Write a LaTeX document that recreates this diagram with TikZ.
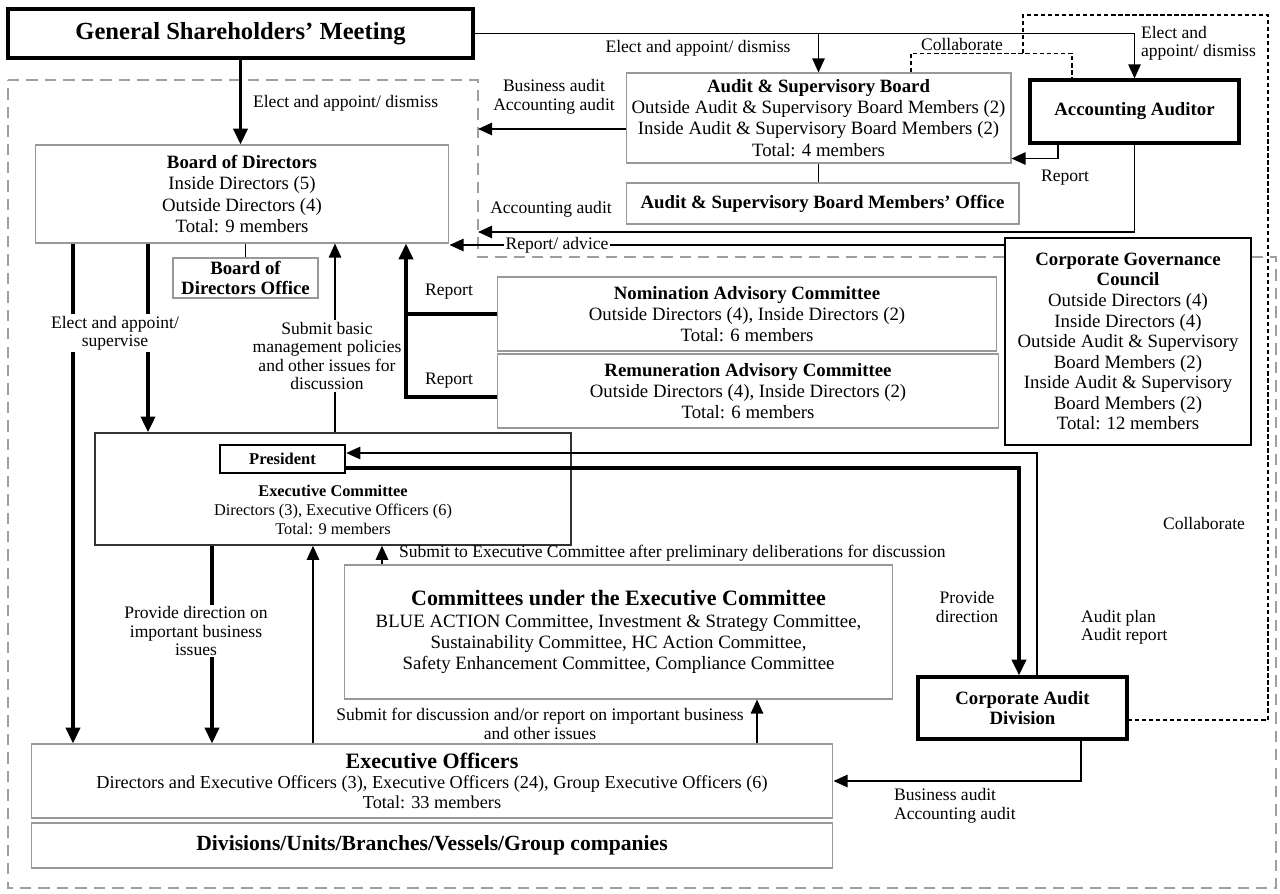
\documentclass[tikz,border=0pt]{standalone}
\usepackage{fontspec}
\setmainfont{Liberation Serif}
\usepackage{tikz}
\usetikzlibrary{arrows.meta}
\tikzset{
	box/.style={draw=gray!80, line width=0.6pt, fill=white, align=center, inner sep=0pt,
		font=\fontsize{10.7}{12}\selectfont},
	heavybox/.style={box, draw=black, line width=1.8pt},
	lbl/.style={align=center, inner sep=1pt, font=\fontsize{10}{10.5}\selectfont},
	gap/.style={lbl, fill=white},
	thk/.style={line width=2pt, -{Triangle[length=9pt,width=8pt]}},
	thn/.style={line width=1pt, -{Triangle[length=8pt,width=7pt]}},
	collab/.style={line width=0.8pt, dash pattern=on 2.5pt off 1.5pt},
	zone/.style={draw=gray!75, line width=1.2pt, dash pattern=on 6.5pt off 4pt}
}

\begin{document}
\begin{tikzpicture}[x=0.02cm, y=-0.02cm]
	\useasboundingbox (0,0) rectangle (1280,893);
	%company side
	\draw[zone] (8,80) -- (478,80) -- (478,257) -- (1276,257) -- (1276,888) -- (8,888) -- cycle;
	\coordinate (zonebiz) at (478,129);
	\coordinate (zoneacc) at (478,232);
	\coordinate (collabtop) at (1268,15);
	
	\node[heavybox, line width=2.5pt, minimum width=9.3cm, minimum height=0.98cm,
		font=\fontsize{14}{16}\selectfont\bfseries] (gsm) at (240.5,33.5) {General Shareholders' Meeting};
	\node[box, minimum width=7.7cm, minimum height=1.8cm] (asb) at (818.5,118)
		{\textbf{Audit \& Supervisory Board}\\Outside Audit \& Supervisory Board Members (2)\\Inside Audit \& Supervisory Board Members (2)\\Total: 4 members};
	\node[heavybox, minimum width=4.18cm, minimum height=1.26cm] (aa) at (1134.5,111.5) {\textbf{Accounting Auditor}};
	\node[box, minimum width=7.86cm, minimum height=0.82cm] (asbmo) at (822.5,203.5) {\textbf{Audit \& Supervisory Board Members' Office}};
	\node[box, minimum width=8.28cm, minimum height=1.96cm] (bod) at (242,194)
		{\textbf{Board of Directors}\\Inside Directors (5)\\Outside Directors (4)\\Total: 9 members};
	\node[box, minimum width=2.9cm, minimum height=0.8cm, font=\fontsize{10.7}{11.5}\selectfont\bfseries] (bodo) at (245.5,278) {Board of\\Directors Office};
	\node[box, minimum width=10cm, minimum height=1.48cm] (nac) at (747,314)
		{\textbf{Nomination Advisory Committee}\\Outside Directors (4), Inside Directors (2)\\Total: 6 members};
	\node[box, minimum width=10.04cm, minimum height=1.48cm] (rac) at (748,391)
		{\textbf{Remuneration Advisory Committee}\\Outside Directors (4), Inside Directors (2)\\Total: 6 members};
	\node[box, draw=black, line width=1.1pt, minimum width=4.92cm, minimum height=4.14cm, font=\fontsize{10.7}{11.7}\selectfont] (cgc) at (1128,341.5)
		{\textbf{Corporate Governance}\\\textbf{Council}\\Outside Directors (4)\\Inside Directors (4)\\Outside Audit \& Supervisory\\Board Members (2)\\Inside Audit \& Supervisory\\Board Members (2)\\Total: 12 members};
	\node[box, draw=black!80, line width=0.8pt, minimum width=9.52cm, minimum height=2.24cm] (exc) at (333,489) {};
	\node[box, draw=black, line width=1.4pt, minimum width=2.5cm, minimum height=0.56cm, font=\fontsize{9.4}{10}\selectfont\bfseries] (pres) at (282.5,459) {President};
	\node[lbl, font=\fontsize{9.3}{10.8}\selectfont] (exctxt) at (333,510)
		{\textbf{Executive Committee}\\Directors (3), Executive Officers (6)\\Total: 9 members};
	\node[box, minimum width=10.98cm, minimum height=2.68cm] (cue) at (618.5,632)
		{{\fontsize{12.5}{14}\selectfont\textbf{Committees under the Executive Committee}}\\BLUE ACTION Committee, Investment \& Strategy Committee,\\Sustainability Committee, HC Action Committee,\\Safety Enhancement Committee, Compliance Committee};
	\node[heavybox, minimum width=4.18cm, minimum height=1.24cm, font=\fontsize{10.7}{11.8}\selectfont\bfseries] (cad) at (1022.5,708) {Corporate Audit\\Division};
	\node[box, minimum width=16.04cm, minimum height=1.48cm, font=\fontsize{10.4}{11.5}\selectfont] (eo) at (432,781)
		{{\fontsize{12.5}{14}\selectfont\textbf{Executive Officers}}\\Directors and Executive Officers (3), Executive Officers (24), Group Executive Officers (6)\\Total: 33 members};
	\node[box, minimum width=16.04cm, minimum height=0.9cm, font=\fontsize{12.3}{14}\selectfont\bfseries] (div) at (432,845.5) {Divisions/Units/Branches/Vessels/Group companies};
	
	%connectors
	\draw[thk] (gsm.south) -- (gsm.south |- bod.north);
	\draw[thn] (gsm.east) -| (aa.north);
	\draw[thn] (gsm.east -| asb.north) -- (asb.north);
	\draw[collab] (asb.north -| 911,0) |- ([xshift=-1.25cm, yshift=0.5cm]aa.north) -- ([xshift=-1.25cm]aa.north);
	\draw[collab] ([xshift=-2.23cm, yshift=0.5cm]aa.north) |- (collabtop) |- ([yshift=-0.24cm]cad.east);
	\draw[thn] ([xshift=-1.53cm]aa.south) |- ([yshift=0.1cm]asb.south east);
	\draw[line width=1pt] (asb.south) -- (asb.south |- asbmo.north);
	\draw[thn] (aa.south) |- (zoneacc);
	\draw[thn] (asb.west |- zonebiz) -- (zonebiz);
	\draw[thn] (cgc.west |- 0,245) -- (bod.east |- 0,245);
	\draw[line width=1pt] (bodo.north) -- (bodo.north |- bod.south);
	\draw[thk] (bod.south -| 73,0) -- (eo.north -| 73,0);
	\draw[thk] (bod.south -| 148,0) -- (exc.north -| 148,0);
	\draw[thn] (exc.north -| 335,0) -- (bod.south -| 335,0);
	\draw[line width=2pt] (nac.west) -- (nac.west -| 406,0);
	\draw[thk] (rac.west |- 0,397) -| (bod.south -| 406,0);
	\draw[thn] (cad.north -| 1037,0) |- (pres.east |- 0,453);
	\draw[thk] (pres.east |- 0,468) -| (cad.north -| 1019,0);
	\draw[thn] (cue.north -| 382,0) -- (exc.south -| 382,0);
	\draw[thk] (exc.south -| 212,0) -- (eo.north -| 212,0);
	\draw[thn] (eo.north -| 313,0) -- (exc.south -| 313,0);
	\draw[thn] (eo.north -| 757,0) -- (cue.south -| 757,0);
	\draw[thn] (cad.south -| 1081,0) |- (eo.east);
	
	%labels
	\node[lbl, anchor=west] (lgsmbod) at (251,103) {Elect and appoint/ dismiss};
	\node[lbl] (lgsmasb) at (698,48) {Elect and appoint/ dismiss};
	\node[lbl, anchor=west, align=left] (lgsmaa) at (1139,43) {Elect and\\appoint/ dismiss};
	\node[lbl] (lcollab) at (962,44) {Collaborate};
	\node[lbl] (lasbaudit) at (554,97) {Business audit\\Accounting audit};
	\node[lbl] (laareport) at (1065,178) {Report};
	\node[lbl] (laaaudit) at (551,209) {Accounting audit};
	\node[gap] (ladvice) at (557,245) {Report/ advice};
	\node[gap] (lsupervise) at (115,333) {Elect and appoint/\\supervise};
	\node[gap] (lsubmit) at (327,356) {Submit basic\\management policies\\and other issues for\\discussion};
	\node[lbl] (lnac) at (449,292) {Report};
	\node[lbl] (lrac) at (449,381) {Report};
	\node[lbl, anchor=west] (lcue) at (397,553) {Submit to Executive Committee after preliminary deliberations for discussion};
	\node[gap] (lprovide) at (196,631) {Provide direction on\\important business\\issues};
	\node[lbl] (leocue) at (540,724) {Submit for discussion and/or report on important business\\and other issues};
	\node[lbl] (ldirection) at (967,607) {Provide\\direction};
	\node[lbl, anchor=west, align=left] (lplan) at (1079,627) {Audit plan\\Audit report};
	\node[lbl, anchor=west, align=left] (lcadaudit) at (892,806) {Business audit\\Accounting audit};
	\node[lbl] (lcollabcad) at (1204,523) {Collaborate};
\end{tikzpicture}
\end{document}
